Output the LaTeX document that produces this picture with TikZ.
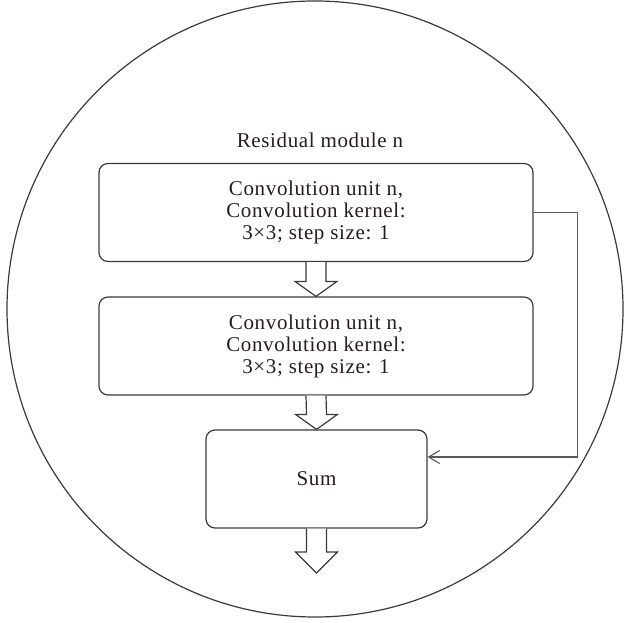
\documentclass[tikz,border=0pt]{standalone}
\usepackage{fontspec}
\setmainfont{Liberation Serif}[LetterSpace=3]
\usetikzlibrary{arrows.meta,calc}
\definecolor{ink}{HTML}{231F20}
\definecolor{edge}{HTML}{3A3A3A}
\tikzset{
  txt/.style={text=ink, font=\fontsize{21}{22}\selectfont},
  unitbox/.style={txt, draw=edge, line width=1.2pt, rounded corners=9pt,
    minimum height=98pt, align=center, inner sep=0pt},
  blockarrow/.style={draw=edge, line width=1.2pt, fill=white, line join=miter},
  feedback/.style={draw=edge!85, line width=1.1pt,
    -{Straight Barb[length=11pt,width=13pt,line width=1.1pt]}},
}
\begin{document}
\begin{tikzpicture}[x=1pt,y=-1pt]
  \useasboundingbox (0,0) rectangle (624,623);
  % enclosing circle
  \draw[edge, line width=1.2pt] (315,309) circle[radius=308];

  % title
  \node[txt, anchor=base] (title) at (320,148) {Residual module n};

  % convolution units and sum
  \node[unitbox, minimum width=434pt] (b1) at (316,212.5)
    {Convolution unit n,\\Convolution kernel:\\3×3; step size: 1};
  \node[unitbox, minimum width=434pt] (b2) at (316,346)
    {Convolution unit n,\\Convolution kernel:\\3×3; step size: 1};
  \node[unitbox, minimum width=221pt] (sum) at (316.5,479) {Sum};
  \coordinate (out) at (316.5,573);

  % hollow block arrows between stages
  \draw[blockarrow]
    ([xshift=-10pt]b1.south) -- ([xshift=-10pt,yshift=15pt]b2.north)
    -- ([xshift=-21pt,yshift=15pt]b2.north) -- (b2.north)
    -- ([xshift=21pt,yshift=15pt]b2.north) -- ([xshift=10pt,yshift=15pt]b2.north)
    -- ([xshift=10pt]b1.south);
  \draw[blockarrow]
    ([xshift=-10pt]b2.south) -- ([xshift=-10pt,yshift=15pt]sum.north)
    -- ([xshift=-21pt,yshift=15pt]sum.north) -- (sum.north)
    -- ([xshift=21pt,yshift=15pt]sum.north) -- ([xshift=10pt,yshift=15pt]sum.north)
    -- ([xshift=10pt]b2.south);
  \draw[blockarrow]
    ([xshift=-10pt]sum.south) -- ([xshift=-10pt,yshift=21pt]out)
    -- ([xshift=-21pt,yshift=21pt]out) -- (out)
    -- ([xshift=21pt,yshift=21pt]out) -- ([xshift=10pt,yshift=21pt]out)
    -- ([xshift=10pt]sum.south);

  % skip connection
  \draw[feedback] (b1.east) -- ++(44,0) |- ([yshift=22pt]sum.east);
\end{tikzpicture}
\end{document}
